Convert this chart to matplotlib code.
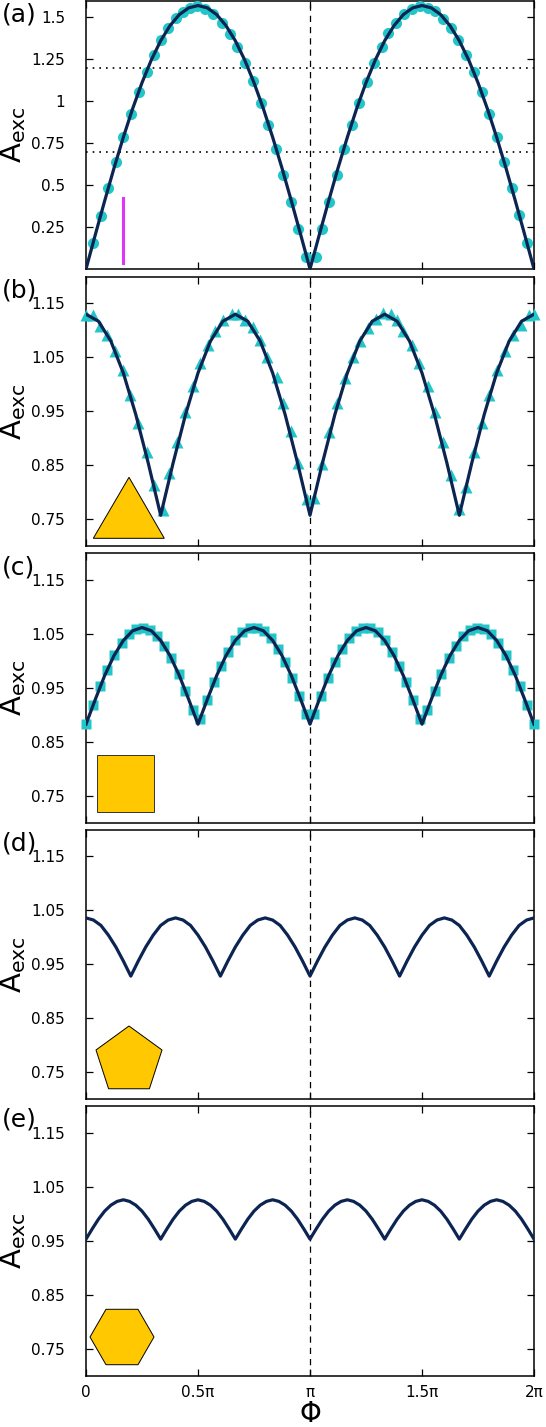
import numpy as np
import matplotlib.pyplot as plt
from matplotlib.patches import Polygon

plt.rcParams['font.family'] = ['DejaVu Sans']
plt.rcParams['mathtext.fontset'] = 'dejavusans'

# curves (theory), phase in units of pi, evenly spaced from 0 to 2
amp_a = [0, 0.205, 0.406, 0.601, 0.785, 0.956, 1.110, 1.246, 1.360, 1.450, 1.516, 1.556, 1.570,
         1.556, 1.516, 1.450, 1.360, 1.246, 1.110, 0.956, 0.785, 0.601, 0.406, 0.205, 0,
         0.205, 0.406, 0.601, 0.785, 0.956, 1.110, 1.246, 1.360, 1.450, 1.516, 1.556, 1.570,
         1.556, 1.516, 1.450, 1.360, 1.246, 1.110, 0.956, 0.785, 0.601, 0.406, 0.205, 0]
amp_b = [1.130, 1.117, 1.080, 1.021, 0.944, 0.854, 0.757, 0.854, 0.944, 1.021, 1.080, 1.117,
         1.130, 1.117, 1.080, 1.021, 0.944, 0.854, 0.757, 0.854, 0.944, 1.021, 1.080, 1.117,
         1.130, 1.117, 1.080, 1.021, 0.944, 0.854, 0.757, 0.854, 0.944, 1.021, 1.080, 1.117, 1.130]
amp_c = [0.883, 0.929, 0.973, 1.010, 1.038, 1.056, 1.062, 1.056, 1.038, 1.010, 0.973, 0.929,
         0.883, 0.929, 0.973, 1.010, 1.038, 1.056, 1.062, 1.056, 1.038, 1.010, 0.973, 0.929,
         0.883, 0.929, 0.973, 1.010, 1.038, 1.056, 1.062, 1.056, 1.038, 1.010, 0.973, 0.929,
         0.883, 0.929, 0.973, 1.010, 1.038, 1.056, 1.062, 1.056, 1.038, 1.010, 0.973, 0.929, 0.883]
amp_d = [1.036, 1.032, 1.022, 1.004, 0.982, 0.956, 0.928, 0.956, 0.982, 1.004, 1.022, 1.032,
         1.036, 1.032, 1.022, 1.004, 0.982, 0.956, 0.928, 0.956, 0.982, 1.004, 1.022, 1.032,
         1.036, 1.032, 1.022, 1.004, 0.982, 0.956, 0.928, 0.956, 0.982, 1.004, 1.022, 1.032,
         1.036, 1.032, 1.022, 1.004, 0.982, 0.956, 0.928, 0.956, 0.982, 1.004, 1.022, 1.032,
         1.036, 1.032, 1.022, 1.004, 0.982, 0.956, 0.928, 0.956, 0.982, 1.004, 1.022, 1.032, 1.036]
amp_e = [0.953, 0.972, 0.990, 1.005, 1.016, 1.023, 1.026, 1.023, 1.016, 1.005, 0.990, 0.972,
         0.953, 0.972, 0.990, 1.005, 1.016, 1.023, 1.026, 1.023, 1.016, 1.005, 0.990, 0.972,
         0.953, 0.972, 0.990, 1.005, 1.016, 1.023, 1.026, 1.023, 1.016, 1.005, 0.990, 0.972,
         0.953, 0.972, 0.990, 1.005, 1.016, 1.023, 1.026, 1.023, 1.016, 1.005, 0.990, 0.972,
         0.953, 0.972, 0.990, 1.005, 1.016, 1.023, 1.026, 1.023, 1.016, 1.005, 0.990, 0.972,
         0.953, 0.972, 0.990, 1.005, 1.016, 1.023, 1.026, 1.023, 1.016, 1.005, 0.990, 0.972, 0.953]

# measured points (phase in units of pi)
pts_a_x = [0.030, 0.066, 0.100, 0.134, 0.167, 0.201, 0.235, 0.271, 0.304, 0.335, 0.367, 0.402,
           0.434, 0.464, 0.497, 0.531, 0.568, 0.606, 0.643, 0.675, 0.710, 0.744, 0.780, 0.814,
           0.848, 0.881, 0.915, 0.948, 0.982,
           1.027, 1.052, 1.085, 1.119, 1.153, 1.188, 1.220, 1.253, 1.286, 1.320, 1.350, 1.384,
           1.420, 1.454, 1.491, 1.525, 1.558, 1.592, 1.628, 1.662, 1.696, 1.732, 1.767, 1.799,
           1.834, 1.866, 1.903, 1.934, 1.967]
pts_a_y = [0.153, 0.315, 0.480, 0.635, 0.787, 0.926, 1.055, 1.174, 1.277, 1.362, 1.435, 1.495,
           1.531, 1.557, 1.565, 1.551, 1.521, 1.468, 1.402, 1.322, 1.230, 1.118, 0.989, 0.857,
           0.714, 0.563, 0.400, 0.238, 0.070,
           0.070, 0.238, 0.400, 0.563, 0.714, 0.857, 0.989, 1.114, 1.230, 1.322, 1.405, 1.465,
           1.521, 1.551, 1.565, 1.557, 1.535, 1.491, 1.435, 1.362, 1.273, 1.174, 1.055, 0.926,
           0.787, 0.635, 0.480, 0.320, 0.153]

pts_b_x = [0.0, 0.030, 0.063, 0.092, 0.129, 0.164, 0.196, 0.233, 0.271, 0.304, 0.345, 0.372,
           0.405, 0.442, 0.479, 0.509, 0.546, 0.576, 0.613, 0.650, 0.680, 0.710, 0.747, 0.777,
           0.809, 0.851, 0.881, 0.914, 0.948, 0.985,
           1.019, 1.054, 1.086, 1.119, 1.156, 1.191, 1.225, 1.258, 1.295, 1.327, 1.362, 1.387,
           1.417, 1.455, 1.488, 1.525, 1.559, 1.592, 1.629, 1.664, 1.696, 1.733, 1.768, 1.800,
           1.835, 1.871, 1.908, 1.942, 1.976, 2.0]
pts_b_y = [1.128, 1.128, 1.109, 1.091, 1.061, 1.027, 0.981, 0.929, 0.874, 0.813, 0.767, 0.835,
           0.893, 0.948, 0.997, 1.040, 1.073, 1.098, 1.119, 1.130, 1.131, 1.119, 1.107, 1.082,
           1.051, 1.014, 0.965, 0.913, 0.854, 0.787,
           0.789, 0.852, 0.912, 0.965, 1.012, 1.051, 1.081, 1.104, 1.122, 1.132, 1.130, 1.119,
           1.098, 1.073, 1.040, 0.997, 0.948, 0.893, 0.832, 0.768, 0.809, 0.874, 0.929, 0.981,
           1.027, 1.061, 1.092, 1.110, 1.128, 1.130]

pts_c_x = [0.0, 0.032, 0.063, 0.095, 0.127, 0.159, 0.190, 0.222, 0.254, 0.286, 0.317, 0.349,
           0.381, 0.413, 0.444, 0.476, 0.508, 0.540, 0.571, 0.603, 0.635, 0.667, 0.698, 0.730,
           0.762, 0.794, 0.825, 0.857, 0.889, 0.921, 0.952, 0.984, 1.016, 1.048, 1.079, 1.111,
           1.143, 1.175, 1.206, 1.238, 1.270, 1.302, 1.333, 1.365, 1.397, 1.429, 1.460, 1.492,
           1.524, 1.556, 1.587, 1.619, 1.651, 1.683, 1.714, 1.746, 1.778, 1.810, 1.841, 1.873,
           1.905, 1.937, 1.968, 2.0]
pts_c_y = [0.883, 0.918, 0.953, 0.984, 1.011, 1.033, 1.050, 1.059, 1.062, 1.058, 1.046, 1.028,
           1.005, 0.976, 0.944, 0.910, 0.892, 0.927, 0.961, 0.991, 1.017, 1.038, 1.053, 1.061,
           1.061, 1.055, 1.042, 1.023, 0.998, 0.969, 0.936, 0.901,
           0.901, 0.936, 0.969, 0.998, 1.023, 1.042, 1.055, 1.061, 1.061, 1.053, 1.038, 1.017,
           0.991, 0.961, 0.927, 0.892, 0.910, 0.944, 0.976, 1.005, 1.028, 1.046, 1.058, 1.062,
           1.059, 1.050, 1.033, 1.011, 0.984, 0.953, 0.918, 0.883]

xtick_pos = [0, 0.5, 1, 1.5, 2]
xtick_lab = ['0', '0.5π', 'π', '1.5π', '2π']
ytick_a = [0.25, 0.5, 0.75, 1.0, 1.25, 1.5]
ytick_a_lab = ['0.25', '0.5', '0.75', '1', '1.25', '1.5']
ytick_rest = [0.75, 0.85, 0.95, 1.05, 1.15]

line_col = '#0c2452'
dot_col = '#22c6c8'
shape_col = '#ffc800'

W, H = 546, 1427
L, R = 86, 534
tops = [0.5, 276.5, 553, 829.5, 1106]
bots = [269, 546, 823, 1099, 1375.5]

fig = plt.figure(figsize=(W / 100, H / 100), dpi=100)
axes = []
for t, b in zip(tops, bots):
    ax = fig.add_axes([L / W, 1 - b / H, (R - L) / W, (b - t) / H])
    axes.append(ax)


def to_ax(i, px, py):
    return ((px - L) / (R - L), (bots[i] - py) / (bots[i] - tops[i]))


curves = [amp_a, amp_b, amp_c, amp_d, amp_e]
for i, ax in enumerate(axes):
    y = curves[i]
    x = np.linspace(0, 2, len(y))
    ax.plot(x, y, color=line_col, lw=2.3, zorder=4)
    ax.axvline(1, color='k', lw=0.9, ls=(0, (5, 4)), zorder=1)
    ax.set_xlim(0, 2)
    ax.set_xticks(xtick_pos)
    if i == 0:
        ax.set_ylim(0, 1.6)
        ax.set_yticks(ytick_a)
        ax.set_yticklabels(ytick_a_lab)
    else:
        ax.set_ylim(0.7, 1.2)
        ax.set_yticks(ytick_rest)
        ax.set_yticklabels(['%.2f' % v for v in ytick_rest])
    ax.tick_params(direction='in', top=True, right=True, length=5, width=0.9,
                   labelsize=11, colors='k')
    ax.tick_params(axis='y', pad=15)
    ax.tick_params(axis='x', pad=7)
    if i < 4:
        ax.tick_params(labelbottom=False)
    else:
        ax.set_xticklabels(xtick_lab)
        ax.set_xlabel('Φ', fontsize=20, labelpad=0)
    for s in ax.spines.values():
        s.set_linewidth(1.1)
    ax.set_ylabel(r'$\mathrm{A}_{\mathrm{exc}}$', fontsize=21)
    ax.yaxis.set_label_coords(-0.13, 0.5)
    fig.text(0.003, 1 - (tops[i] + 14) / H, '(%s)' % 'abcde'[i], fontsize=18,
             va='center', ha='left')

# panel (a)
ax = axes[0]
ax.axhline(1.2, color='k', lw=1.2, ls=(0, (1, 3)), zorder=1)
ax.axhline(0.7, color='k', lw=1.2, ls=(0, (1, 3)), zorder=1)
ax.plot(pts_a_x, pts_a_y, 'o', color=dot_col, ms=8, mec='none', zorder=3, clip_on=False)
ax.plot([1 / 6, 1 / 6], [0.035, 0.425], color='#e035f8', lw=2.2, zorder=3)

# panel (b)
ax = axes[1]
ax.plot(pts_b_x, pts_b_y, '^', color=dot_col, ms=8, mec='none', zorder=3, clip_on=False)
tri = [to_ax(1, 93.3, 538.3), to_ax(1, 164.3, 538.3), to_ax(1, 129, 477.3)]
ax.add_patch(Polygon(tri, closed=True, transform=ax.transAxes, fc=shape_col, ec='k', lw=0.7))

# panel (c)
ax = axes[2]
ax.plot(pts_c_x, pts_c_y, 's', color=dot_col, ms=6.5, mec='none', zorder=3, clip_on=False)
sq = [to_ax(2, 96.7, 755), to_ax(2, 154, 755), to_ax(2, 154, 811.7), to_ax(2, 96.7, 811.7)]
ax.add_patch(Polygon(sq, closed=True, transform=ax.transAxes, fc=shape_col, ec='#333', lw=0.7))

# panel (d) pentagon
ax = axes[3]
cx, cy, rr = 129, 1060.7, 34.7
ang = np.deg2rad(90 + 72 * np.arange(5))
pent = [to_ax(3, cx + rr * np.cos(a), cy - rr * np.sin(a)) for a in ang]
ax.add_patch(Polygon(pent, closed=True, transform=ax.transAxes, fc=shape_col, ec='k', lw=0.7))

# panel (e) hexagon
ax = axes[4]
cx, cy, rr = 122, 1337, 32
ang = np.deg2rad(60 * np.arange(6))
hexa = [to_ax(4, cx + rr * np.cos(a), cy - rr * np.sin(a)) for a in ang]
ax.add_patch(Polygon(hexa, closed=True, transform=ax.transAxes, fc=shape_col, ec='k', lw=0.7))

fig.savefig('out.png', dpi=100)
